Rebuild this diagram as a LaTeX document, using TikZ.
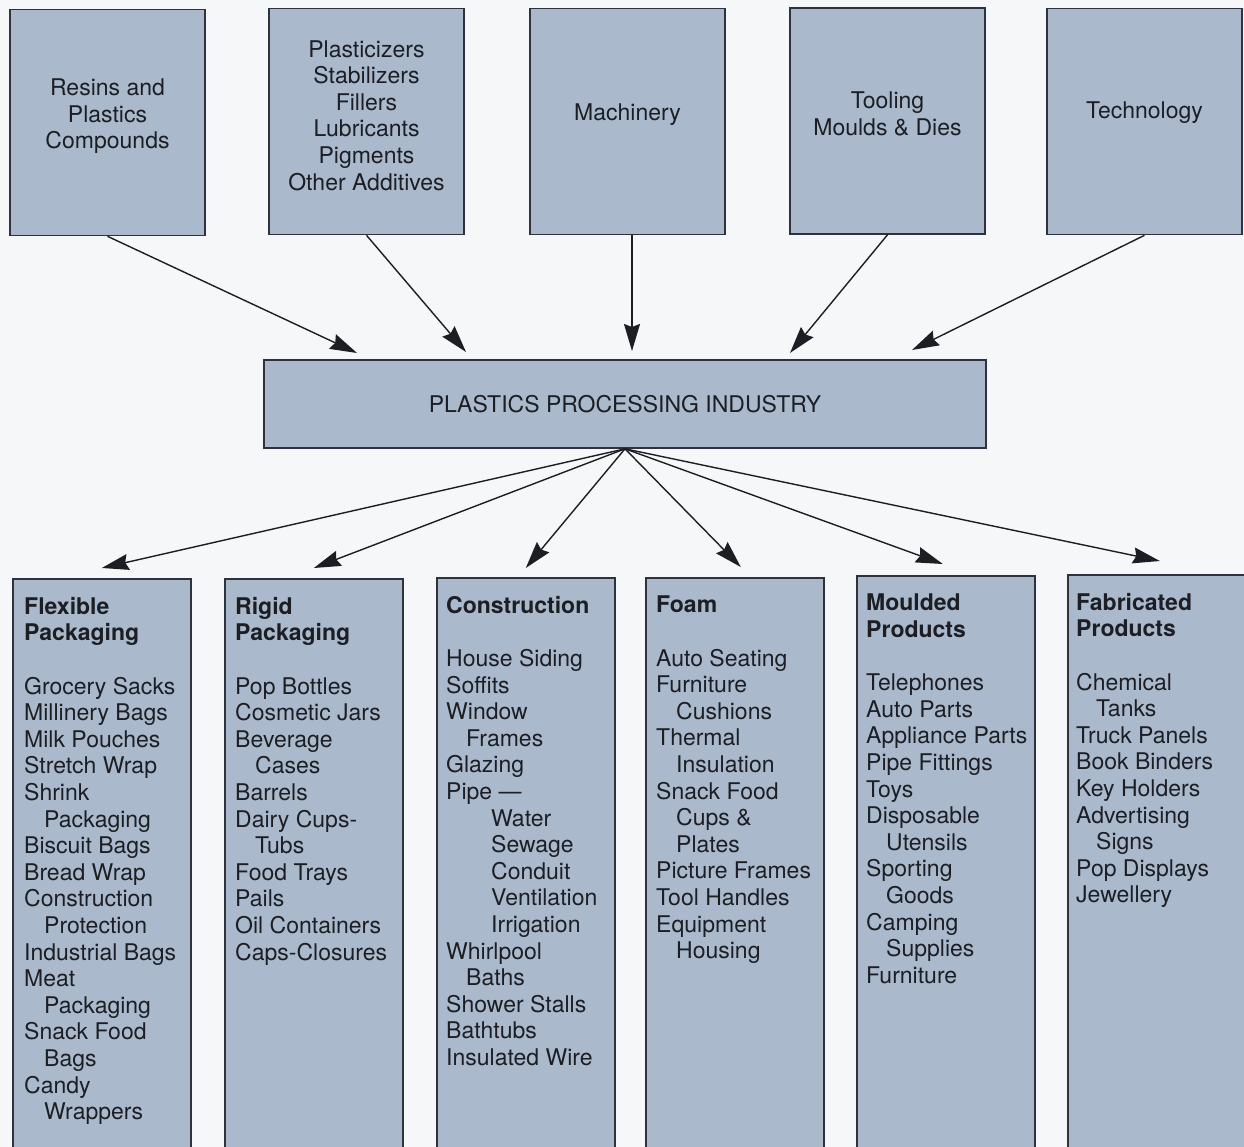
\documentclass[tikz,border=0pt]{standalone}
\usepackage{fontspec}
\setmainfont{TeX Gyre Heros}
\usepackage{tikz}
\usetikzlibrary{arrows.meta,positioning}

\definecolor{boxfill}{RGB}{170,186,204}
\definecolor{boxline}{RGB}{45,50,60}
\definecolor{paper}{RGB}{246,247,249}
\definecolor{ink}{RGB}{28,30,36}

\newcommand{\wrapin}{\hspace*{20pt}}
\newcommand{\pipein}{\hspace*{45pt}}

\begin{document}
\begin{tikzpicture}[x=1pt,y=-1pt,
        box/.style={draw=boxline,fill=boxfill,line width=1.6pt,inner sep=0pt},
        supplybox/.style={box,minimum width=195pt,minimum height=226pt},
        marketbox/.style={box,minimum width=178pt,minimum height=620pt,anchor=north west},
        boxtext/.style={text=ink,font=\fontsize{23}{26.6}\selectfont,inner sep=0pt,align=center},
        listtext/.style={boxtext,align=left,anchor=north west},
        flow/.style={draw=ink,line width=1.4pt,-{Stealth[length=27pt,width=16pt,inset=3pt]}}
    ]
        \useasboundingbox (0,0) rectangle (1244,1147);
        \clip (0,0) rectangle (1244,1147);
        \fill[paper] (0,0) rectangle (1244,1147);

        % inputs
        \node[supplybox] (resins) at (107.5,122.5) {};
        \node[supplybox] (additives) at (366.5,121.5) {};
        \node[supplybox] (machinery) at (627.5,121.5) {};
        \node[supplybox] (tooling) at (887.5,121) {};
        \node[supplybox] (technology) at (1144.5,121.5) {};

        \node[boxtext] at ([yshift=6pt]resins.center) {Resins and\\Plastics\\Compounds};
        \node[boxtext] at ([yshift=6pt]additives.center) {Plasticizers\\Stabilizers\\Fillers\\Lubricants\\Pigments\\Other Additives};
        \node[boxtext] at ([yshift=7pt]machinery.center) {Machinery};
        \node[boxtext] at ([yshift=7pt]tooling.center) {Tooling\\Moulds \& Dies};
        \node[boxtext] at ([yshift=9pt]technology.center) {Technology};

        % industry
        \node[box,boxtext,minimum width=722pt,minimum height=88pt] (industry) at (625,404) {PLASTICS PROCESSING INDUSTRY};

        \coordinate (in-resins) at (357,353);
        \coordinate (in-additives) at (466,352);
        \coordinate (in-machinery) at (632,351);
        \coordinate (in-tooling) at (790,353);
        \coordinate (in-technology) at (912,350);

        \draw[flow] (resins.south) -- (in-resins);
        \draw[flow] (additives.south) -- (in-additives);
        \draw[flow] (machinery.south -| in-machinery) -- (in-machinery);
        \draw[flow] (tooling.south) -- (in-tooling);
        \draw[flow] (technology.south) -- (in-technology);

        % markets
        \node[marketbox] (flexible) at (12,578) {};
        \node[marketbox] (rigid) at (224,578) {};
        \node[marketbox] (construction) at (436,577) {};
        \node[marketbox] (foam) at (645,577) {};
        \node[marketbox] (moulded) at (856,575) {};
        \node[marketbox] (fabricated) at (1067,574) {};

        \node[listtext] at ([xshift=12pt,yshift=-19pt]flexible.north west) {\textbf{Flexible}\\\textbf{Packaging}\\[26.6pt]
            Grocery Sacks\\Millinery Bags\\Milk Pouches\\Stretch Wrap\\Shrink\\\wrapin Packaging\\Biscuit Bags\\Bread Wrap\\
            Construction\\\wrapin Protection\\Industrial Bags\\Meat\\\wrapin Packaging\\Snack Food\\\wrapin Bags\\Candy\\\wrapin Wrappers};
        \node[listtext] at ([xshift=11pt,yshift=-19pt]rigid.north west) {\textbf{Rigid}\\\textbf{Packaging}\\[26.6pt]
            Pop Bottles\\Cosmetic Jars\\Beverage\\\wrapin Cases\\Barrels\\Dairy Cups-\\\wrapin Tubs\\Food Trays\\Pails\\
            Oil Containers\\Caps-Closures};
        \node[listtext] at ([xshift=10pt,yshift=-19pt]construction.north west) {\textbf{Construction}\\[26.6pt]
            House Siding\\Soffits\\Window\\\wrapin Frames\\Glazing\\Pipe ---\\\pipein Water\\\pipein Sewage\\\pipein Conduit\\
            \pipein Ventilation\\\pipein Irrigation\\Whirlpool\\\wrapin Baths\\Shower Stalls\\Bathtubs\\Insulated Wire};
        \node[listtext] at ([xshift=11pt,yshift=-19pt]foam.north west) {\textbf{Foam}\\[26.6pt]
            Auto Seating\\Furniture\\\wrapin Cushions\\Thermal\\\wrapin Insulation\\Snack Food\\\wrapin Cups \&\\\wrapin Plates\\
            Picture Frames\\Tool Handles\\Equipment\\\wrapin Housing};
        \node[listtext] at ([xshift=10pt,yshift=-19pt]moulded.north west) {\textbf{Moulded}\\\textbf{Products}\\[26.6pt]
            Telephones\\Auto Parts\\Appliance Parts\\Pipe Fittings\\Toys\\Disposable\\\wrapin Utensils\\Sporting\\\wrapin Goods\\
            Camping\\\wrapin Supplies\\Furniture};
        \node[listtext] at ([xshift=9pt,yshift=-19pt]fabricated.north west) {\textbf{Fabricated}\\\textbf{Products}\\[26.6pt]
            Chemical\\\wrapin Tanks\\Truck Panels\\Book Binders\\Key Holders\\Advertising\\\wrapin Signs\\Pop Displays\\Jewellery};

        \draw[flow] (industry.south) -- ([yshift=10pt]flexible.north);
        \draw[flow] (industry.south) -- ([yshift=10pt]rigid.north);
        \draw[flow] (industry.south) -- ([yshift=9pt]construction.north);
        \draw[flow] (industry.south) -- ([xshift=6pt,yshift=10pt]foam.north);
        \draw[flow] (industry.south) -- ([xshift=-3pt,yshift=11pt]moulded.north);
        \draw[flow] (industry.south) -- ([xshift=3pt,yshift=13pt]fabricated.north);
    \end{tikzpicture}
\end{document}
